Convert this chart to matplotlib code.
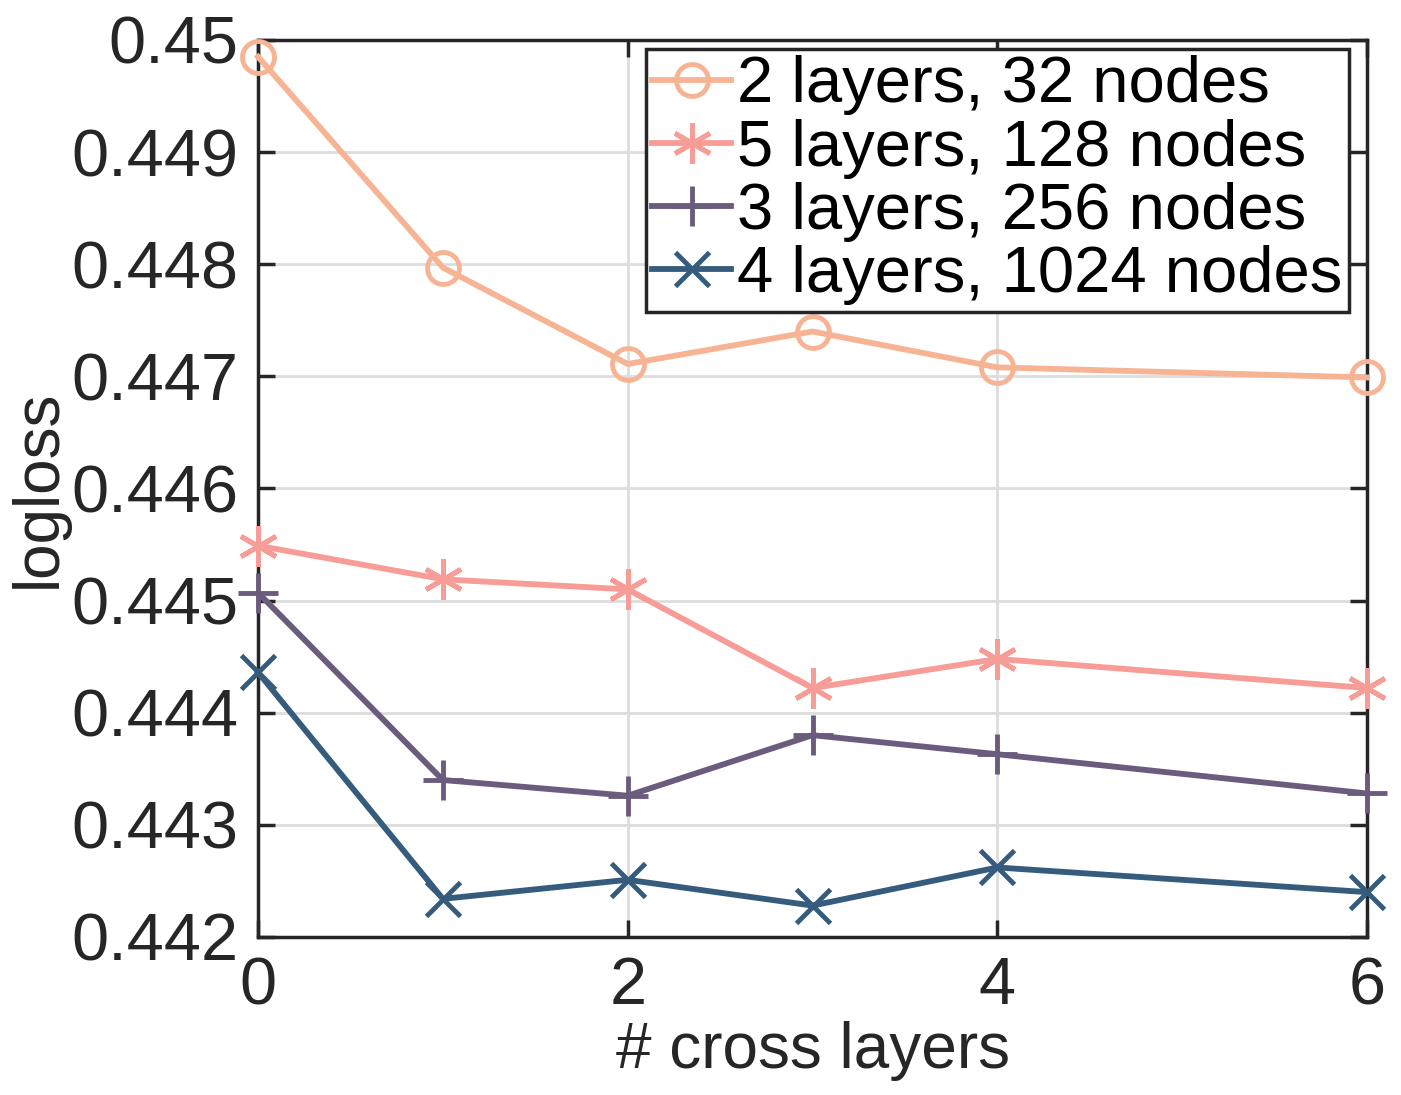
import matplotlib
matplotlib.use('Agg')
from matplotlib import pyplot as plt

# data
cross_layers = [0, 1, 2, 3, 4, 6]
labels = ["2 layers, 32 nodes", "5 layers, 128 nodes",
          "3 layers, 256 nodes", "4 layers, 1024 nodes"]
loss_2x32 = [0.44985, 0.44797, 0.44711, 0.44740, 0.44708, 0.44699]
loss_5x128 = [0.44549, 0.44519, 0.44510, 0.44422, 0.44448, 0.44422]
loss_3x256 = [0.44507, 0.44340, 0.44326, 0.44380, 0.44363, 0.44328]
loss_4x1024 = [0.44436, 0.44234, 0.44251, 0.44228, 0.44262, 0.44240]

colors = ['#F7B494', '#F89C98', '#6B5B7D', '#355C7D']
markers = ['o', (6, 2, 0), '+', 'x']
msizes = [23, 29, 29, 24]


def main():
    plt.rcParams['font.family'] = ['Liberation Sans Narrow', 'Liberation Sans', 'DejaVu Sans']
    fig = plt.figure(figsize=(14.01, 10.95), dpi=100)
    ax = fig.add_axes([0.1842, 0.1443, 0.7915, 0.8192])

    series = [loss_2x32, loss_5x128, loss_3x256, loss_4x1024]
    for vals, lab, c, m, ms in zip(series, labels, colors, markers, msizes):
        ax.plot(cross_layers, vals, color=c, marker=m, markersize=ms,
                markerfacecolor='none', markeredgewidth=3.5, lw=4.2,
                label=lab, clip_on=False, zorder=3)

    ax.set_xlim(0, 6)
    ax.set_ylim(0.442, 0.45)
    ax.set_xticks([0, 2, 4, 6])
    ax.set_yticks([0.442, 0.443, 0.444, 0.445, 0.446, 0.447, 0.448, 0.449, 0.45])
    ax.set_yticklabels(['0.442', '0.443', '0.444', '0.445', '0.446',
                        '0.447', '0.448', '0.449', '0.45'])
    ax.grid(True, color='#DDDDDD', lw=2)
    ax.set_axisbelow(True)
    for s in ax.spines.values():
        s.set_color('#262626')
        s.set_linewidth(2.5)
    ax.tick_params(direction='in', length=12, width=2.5, colors='#262626',
                   labelsize=48, top=True, right=True, pad=14)

    ax.set_xlabel("# cross layers", fontsize=46, color='#262626', labelpad=2)
    ax.set_ylabel("logloss", fontsize=46, color='#262626', labelpad=2)

    leg = ax.legend(loc='upper right', bbox_to_anchor=(0.984, 0.99),
                    fontsize=47, handlelength=1.2,
                    handletextpad=0.1, borderpad=0.1, labelspacing=0.05,
                    borderaxespad=0, fancybox=False, framealpha=1)
    leg.get_frame().set_edgecolor('#262626')
    leg.get_frame().set_linewidth(2.5)

    plt.savefig('out.png', dpi=100)


if __name__ == '__main__':
    main()
